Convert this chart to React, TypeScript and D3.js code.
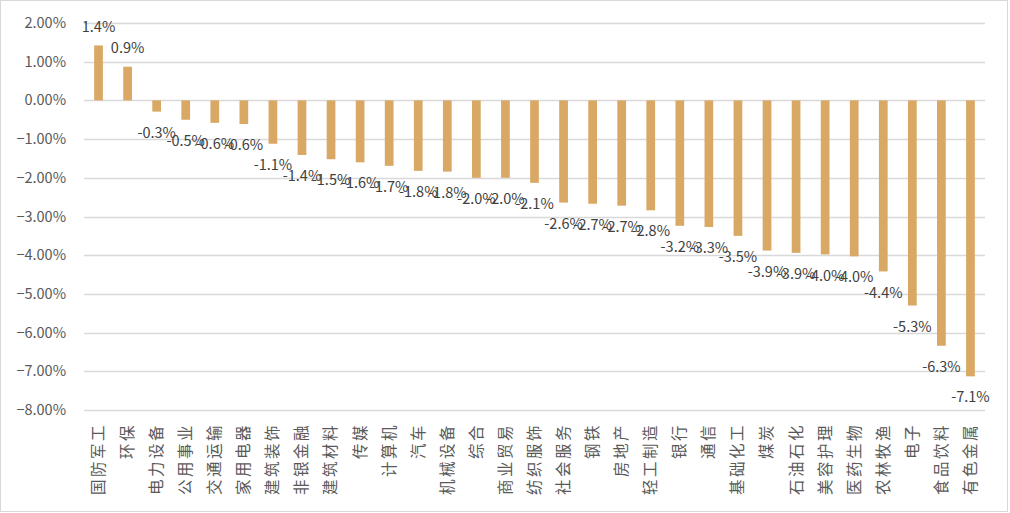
import * as d3 from 'd3';
import { useEffect, useRef } from 'react';

const categories = ['国防军工', '环保', '电力设备', '公用事业', '交通运输', '家用电器', '建筑装饰', '非银金融', '建筑材料', '传媒', '计算机', '汽车', '机械设备', '综合', '商业贸易', '纺织服饰', '社会服务', '钢铁', '房地产', '轻工制造', '银行', '通信', '基础化工', '煤炭', '石油石化', '美容护理', '医药生物', '农林牧渔', '电子', '食品饮料', '有色金属'];
const values = [1.42, 0.87, -0.29, -0.5, -0.58, -0.61, -1.12, -1.41, -1.52, -1.6, -1.69, -1.82, -1.84, -2.0, -2.0, -2.13, -2.64, -2.67, -2.72, -2.84, -3.24, -3.27, -3.5, -3.88, -3.94, -3.98, -4.03, -4.42, -5.3, -6.34, -7.13];
const yTicks = [2, 1, 0, -1, -2, -3, -4, -5, -6, -7, -8];

const FONT = '"Noto Sans CJK SC", "Noto Sans", sans-serif';

export default function App() {
  const ref = useRef<SVGSVGElement>(null);

  useEffect(() => {
    const width = 1010, height = 513;
    const margin = { top: 23, right: 25, bottom: 103, left: 84 };

    const svg = d3.select(ref.current);
    svg.selectAll('*').remove();

    svg.append('rect')
      .attr('x', 0.5).attr('y', 0.5)
      .attr('width', 1007).attr('height', 511)
      .attr('fill', '#fff').attr('stroke', '#D9D9D9');

    var x = d3.scaleBand()
      .domain(categories)
      .range([margin.left, width - margin.right])
      .paddingInner(0.7).paddingOuter(0.35);

    var y = d3.scaleLinear()
      .domain([-8, 2])
      .range([height - margin.bottom, margin.top]);

    // gridlines
    svg.append('g').selectAll('line')
      .data(yTicks)
      .enter().append('line')
      .attr('x1', margin.left).attr('x2', width - margin.right)
      .attr('y1', d => Math.round(y(d)) + 0.5).attr('y2', d => Math.round(y(d)) + 0.5)
      .attr('stroke', '#D9D9D9').attr('stroke-width', 1.3);

    // y tick labels
    svg.append('g').selectAll('text')
      .data(yTicks)
      .enter().append('text')
      .attr('x', 66).attr('y', d => y(d))
      .attr('dy', '0.35em')
      .attr('text-anchor', 'end')
      .attr('font-family', FONT).attr('font-size', 14.5)
      .attr('fill', '#595959')
      .text(d => d3.format('.2f')(d) + '%');

    // bars
    svg.append('g').selectAll('rect')
      .data(values)
      .enter().append('rect')
      .attr('x', (d, i) => x(categories[i])!)
      .attr('width', x.bandwidth())
      .attr('y', d => y(Math.max(0, d)))
      .attr('height', d => Math.abs(y(d) - y(0)))
      .attr('fill', '#D8A864');

    // data labels
    svg.append('g').selectAll('text')
      .data(values)
      .enter().append('text')
      .attr('x', (d, i) => x(categories[i])! + x.bandwidth() / 2)
      .attr('y', d => d >= 0 ? y(d) - 19 : y(d) + 21)
      .attr('dy', '0.35em')
      .attr('text-anchor', 'middle')
      .attr('font-family', FONT).attr('font-size', 14.5)
      .attr('fill', '#404040')
      .text(d => d.toFixed(1) + '%');

    // category labels
    svg.append('g').selectAll('text')
      .data(categories)
      .enter().append('text')
      .attr('transform', d => 'translate(' + (x(d)! + x.bandwidth() / 2) + ',' + 423 + ') rotate(-90)')
      .attr('dy', '0.35em')
      .attr('text-anchor', 'end')
      .attr('font-family', FONT).attr('font-size', 15.5)
      .attr('letter-spacing', 2.5)
      .attr('fill', '#595959')
      .text(d => d);
  }, []);

  return (
    <svg ref={ref} width={1010} height={513} style={{ position: 'absolute', left: 0, top: 0 }} />
  );
}
